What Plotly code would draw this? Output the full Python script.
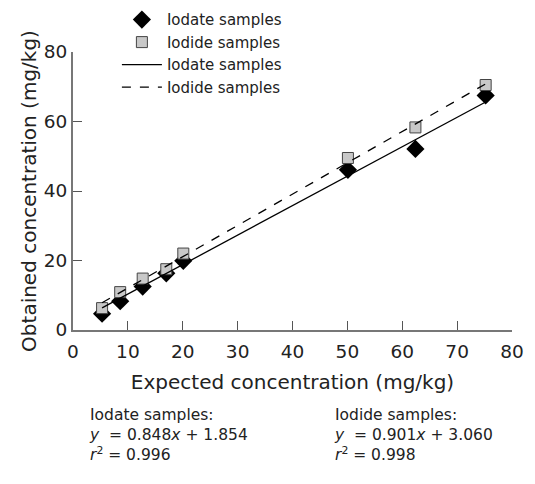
import plotly.graph_objects as go
import numpy as np

expected = [5.3, 8.6, 12.7, 17.0, 20.1, 50.1, 62.4, 75.2]
iodate_obtained = [4.7, 8.3, 12.5, 16.3, 19.9, 46.1, 52.1, 67.5]
iodide_obtained = [6.3, 10.9, 14.8, 17.5, 22.0, 49.5, 58.3, 70.5]

iodate_fit = (0.848, 1.854, 0.996)
iodide_fit = (0.901, 3.060, 0.998)

x_ticks = [0, 10, 20, 30, 40, 50, 60, 70, 80]
y_ticks = [0, 20, 40, 60, 80]

FONT = "DejaVu Sans"

xs = np.array(expected)
fig = go.Figure()
fig.add_trace(go.Scatter(x=expected, y=iodate_obtained, mode="markers", name="Iodate samples",
                         marker=dict(symbol="diamond", size=14, color="black", line=dict(width=0))))
fig.add_trace(go.Scatter(x=expected, y=iodide_obtained, mode="markers", name="Iodide samples",
                         marker=dict(symbol="square", size=11, color="#c8c8c8",
                                     line=dict(color="#444", width=1))))
fig.add_trace(go.Scatter(x=[xs.min(), xs.max()],
                         y=[iodate_fit[0]*xs.min()+iodate_fit[1], iodate_fit[0]*xs.max()+iodate_fit[1]],
                         mode="lines", name="Iodate samples", line=dict(color="black", width=1.3)))
fig.add_trace(go.Scatter(x=[xs.min(), xs.max()],
                         y=[iodide_fit[0]*xs.min()+iodide_fit[1], iodide_fit[0]*xs.max()+iodide_fit[1]],
                         mode="lines", name="Iodide samples", line=dict(color="black", width=1.3, dash="dash")))

fig.update_layout(
    width=535, height=484,
    margin=dict(l=73, r=23, t=52, b=154, autoexpand=False),
    paper_bgcolor="white", plot_bgcolor="white",
    font=dict(family=FONT, color="#222", size=18),
    showlegend=True,
    legend=dict(x=0.10, y=1.175, xanchor="left", yanchor="top", bgcolor="rgba(0,0,0,0)",
                font=dict(size=15, family=FONT), tracegroupgap=0, itemwidth=40),
    xaxis=dict(range=[0, 80], tickvals=x_ticks, ticks="inside", ticklen=9, tickcolor="#555",
               showline=True, linecolor="#777", linewidth=2, showgrid=False, zeroline=False,
               ticklabelstandoff=4,
               tickfont=dict(size=18.5), title=dict(text="Expected concentration (mg/kg)", font=dict(size=20), standoff=14)),
    yaxis=dict(range=[0, 80], tickvals=y_ticks, ticks="inside", ticklen=9, tickcolor="#555",
               showline=True, linecolor="#777", linewidth=2, showgrid=False, zeroline=False,
               tickfont=dict(size=18.5), title=dict(text="Obtained concentration (mg/kg)", font=dict(size=20), standoff=2)),
)

def block(name, fit):
    return (f"{name} samples:<br><i>y</i>  = {fit[0]:.3f}<i>x</i> + {fit[1]:.3f}<br>"
            f"<i>r</i><sup>2</sup> = {fit[2]:.3f}")

for name, fit, px in [("Iodate", iodate_fit, 87), ("Iodide", iodide_fit, 332)]:
    fig.add_annotation(text=block(name, fit), xref="paper", yref="paper",
                       x=(px-73)/439, y=(330-404)/278, xanchor="left", yanchor="top",
                       showarrow=False, align="left", font=dict(size=15.5, family=FONT, color="#222"))

fig.write_html("out.html")
